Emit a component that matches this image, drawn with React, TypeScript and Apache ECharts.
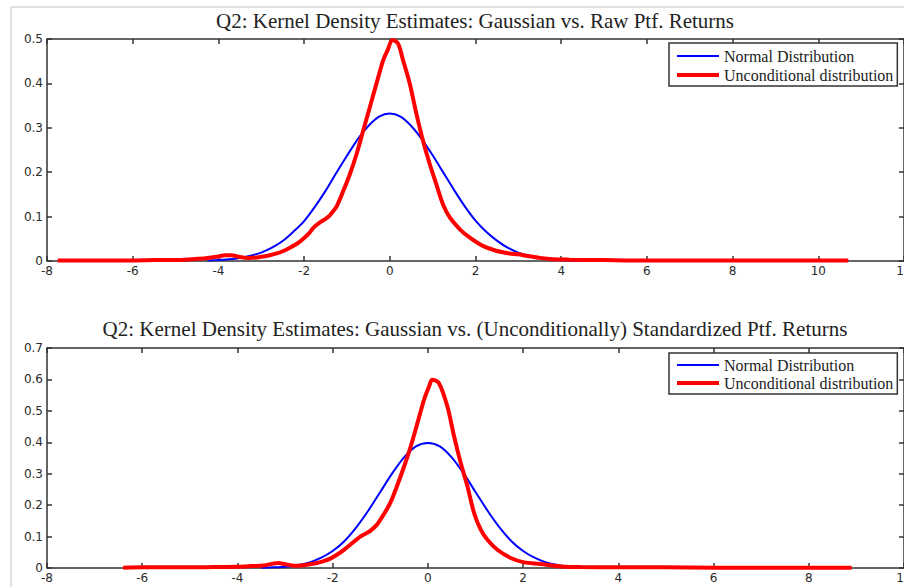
import React, { useEffect, useRef } from "react";
import * as echarts from "echarts";

// ---- Data ----
const titleTop = "Q2: Kernel Density Estimates: Gaussian vs. Raw Ptf. Returns";
const titleBottom =
  "Q2: Kernel Density Estimates: Gaussian vs. (Unconditionally) Standardized Ptf. Returns";
const legendNames = ["Normal Distribution", "Unconditional distribution"];

// Top panel: Normal distribution fit
const topNormalX = [
  -4.25, -4, -3.75, -3.5, -3.25, -3, -2.75, -2.5, -2.25, -2, -1.75, -1.5, -1.25, -1, -0.75, -0.5,
  -0.25, 0, 0.25, 0.5, 0.75, 1, 1.25, 1.5, 1.75, 2, 2.25, 2.5, 2.75, 3, 3.25, 3.5, 3.75, 4, 4.25,
  4.5,
];
const topNormalY = [
  0.001, 0.002, 0.004, 0.007, 0.012, 0.019, 0.03, 0.045, 0.066, 0.09, 0.122, 0.158, 0.198, 0.237,
  0.274, 0.304, 0.325, 0.332, 0.325, 0.304, 0.274, 0.238, 0.199, 0.16, 0.123, 0.091, 0.066, 0.046,
  0.03, 0.019, 0.012, 0.007, 0.004, 0.002, 0.001, 0.0005,
];

// Top panel: kernel density of raw returns
const topKdeX = [
  -7.75, -7, -6.5, -6, -5.5, -5, -4.6, -4.3, -4.0, -3.85, -3.7, -3.5, -3.3, -3.1, -2.95, -2.8,
  -2.64, -2.5, -2.33, -2.15, -2.0, -1.88, -1.78, -1.63, -1.5, -1.4, -1.3, -1.24, -1.085, -0.93,
  -0.775, -0.62, -0.465, -0.31, -0.155, -0.05, 0.06, 0.19, 0.31, 0.465, 0.62, 0.775, 0.93, 1.085,
  1.24, 1.4, 1.63, 1.86, 2.17, 2.48, 2.79, 3.0, 3.18, 3.5, 3.8, 4.2, 5, 6, 7, 8, 9, 10, 10.7,
];
const topKdeY = [
  0.001, 0.001, 0.001, 0.001, 0.002, 0.002, 0.004, 0.006, 0.01, 0.013, 0.013, 0.009, 0.007, 0.008,
  0.01, 0.013, 0.017, 0.022, 0.03, 0.04, 0.052, 0.063, 0.075, 0.087, 0.095, 0.103, 0.115, 0.123,
  0.158, 0.196, 0.241, 0.294, 0.347, 0.4, 0.452, 0.475, 0.498, 0.49, 0.452, 0.4, 0.332, 0.271,
  0.219, 0.173, 0.128, 0.098, 0.072, 0.053, 0.034, 0.023, 0.017, 0.015, 0.012, 0.007, 0.004, 0.003,
  0.002, 0.001, 0.001, 0.001, 0.001, 0.001, 0.001,
];

// Bottom panel: standard normal
const botNormalX = [
  -3.5, -3.25, -3, -2.75, -2.5, -2.25, -2, -1.75, -1.5, -1.25, -1, -0.75, -0.5, -0.25, 0, 0.25, 0.5,
  0.75, 1, 1.25, 1.5, 1.75, 2, 2.25, 2.5, 2.75, 3, 3.25, 3.5,
];
const botNormalY = [
  0.001, 0.002, 0.004, 0.009, 0.017, 0.032, 0.054, 0.086, 0.13, 0.183, 0.242, 0.301, 0.352, 0.387,
  0.398, 0.387, 0.352, 0.301, 0.242, 0.183, 0.13, 0.086, 0.054, 0.032, 0.017, 0.009, 0.004, 0.002,
  0.001,
];

// Bottom panel: kernel density of standardized returns
const botKdeX = [
  -6.4, -6, -5.5, -5, -4.5, -4, -3.7, -3.45, -3.25, -3.15, -3.0, -2.85, -2.75, -2.6, -2.47, -2.33,
  -2.19, -2.05, -1.91, -1.77, -1.63, -1.52, -1.42, -1.3, -1.21, -1.07, -0.93, -0.79, -0.65, -0.5,
  -0.36, -0.22, -0.08, 0.03, 0.09, 0.23, 0.41, 0.55, 0.69, 0.83, 0.97, 1.11, 1.25, 1.46, 1.74, 2.02,
  2.37, 2.6, 2.79, 3.2, 4, 5, 6, 7, 8, 8.9,
];
const botKdeY = [
  0.001, 0.002, 0.002, 0.002, 0.003, 0.004, 0.006, 0.008, 0.014, 0.016, 0.012, 0.008, 0.007, 0.009,
  0.012, 0.016, 0.022, 0.03, 0.042, 0.057, 0.074, 0.088, 0.1, 0.11, 0.118, 0.138, 0.17, 0.207, 0.26,
  0.323, 0.387, 0.461, 0.536, 0.58, 0.599, 0.589, 0.514, 0.419, 0.334, 0.26, 0.175, 0.122, 0.09,
  0.058, 0.032, 0.018, 0.013, 0.008, 0.005, 0.003, 0.002, 0.002, 0.001, 0.001, 0.001, 0.001,
];

const topXRange = [-8, 12];
const topYRange = [0, 0.5];
const botXRange = [-8, 10];
const botYRange = [0, 0.7];

const zip = (xs: number[], ys: number[]) => xs.map((x, i) => [x, ys[i]]);

const BLUE = "#0000ff";
const RED = "#ff0000";
const AXIS = "#333333";
const SERIF = "'Liberation Serif', 'Times New Roman', serif";
const SANS = "'DejaVu Sans', Verdana, sans-serif";

function makeAxes(gridIndex: number, xr: number[], yr: number[]) {
  const tick = { show: true, inside: true, length: 5, lineStyle: { color: AXIS, width: 1.5 } };
  const label = { fontFamily: SANS, fontSize: 12, color: "#2a2a2a" };
  const noLine = { show: false, onZero: false };
  const x = [
    {
      type: "value",
      gridIndex,
      position: "bottom",
      min: xr[0],
      max: xr[1],
      interval: 2,
      axisLine: noLine,
      axisTick: tick,
      splitLine: { show: false },
      axisLabel: { ...label, margin: 4, hideOverlap: false },
    },
    {
      type: "value",
      gridIndex,
      position: "top",
      min: xr[0],
      max: xr[1],
      interval: 2,
      axisLine: noLine,
      axisTick: tick,
      splitLine: { show: false },
      axisLabel: { show: false },
    },
  ];
  const y = [
    {
      type: "value",
      gridIndex,
      position: "left",
      min: yr[0],
      max: yr[1],
      interval: 0.1,
      axisLine: noLine,
      axisTick: tick,
      splitLine: { show: false },
      axisLabel: { ...label, margin: 4 },
    },
    {
      type: "value",
      gridIndex,
      position: "right",
      min: yr[0],
      max: yr[1],
      interval: 0.1,
      axisLine: noLine,
      axisTick: tick,
      splitLine: { show: false },
      axisLabel: { show: false },
    },
  ];
  return { x, y };
}

const ICON_THIN = "path://M0,0L42,0L42,2L0,2Z";
const ICON_THICK = "path://M0,0L42,0L42,4L0,4Z";

function makeLegend(top: number, padding: number[], itemGap: number) {
  return {
    data: [
      { name: legendNames[0], icon: ICON_THIN },
      { name: legendNames[1], icon: ICON_THICK },
    ],
    orient: "vertical",
    left: 669,
    top,
    itemWidth: 42,
    itemHeight: 12,
    itemGap,
    padding,
    symbolKeepAspect: true,
    borderColor: AXIS,
    borderWidth: 1.5,
    borderRadius: 0,
    backgroundColor: "#ffffff",
    selectedMode: false,
    textStyle: { fontFamily: SERIF, fontSize: 16, lineHeight: 14, color: "#222" },
  };
}

export default function App() {
  const ref = useRef<HTMLDivElement>(null);

  useEffect(() => {
    if (!ref.current) return;
    const chart = echarts.init(ref.current, undefined, { renderer: "svg" });
    const a0 = makeAxes(0, topXRange, topYRange);
    const a1 = makeAxes(1, botXRange, botYRange);

    const gridBase = {
      show: true,
      borderColor: AXIS,
      borderWidth: 1.5,
      backgroundColor: "transparent",
      containLabel: false,
      outerBoundsMode: "none",
    };

    const option = {
      animation: false,
      backgroundColor: "#ffffff",
      grid: [
        { ...gridBase, left: 47, top: 39, width: 857, height: 222 },
        { ...gridBase, left: 47, top: 348, width: 857, height: 220 },
      ],
      xAxis: [...a0.x, ...a1.x],
      yAxis: [...a0.y, ...a1.y],
      legend: [makeLegend(43, [5, 4, 3, 8], 3), makeLegend(353, [4, 4, 3, 8], 2)],
      graphic: [
        {
          type: "line",
          shape: { x1: 11, y1: 7, x2: 904, y2: 7 },
          style: { stroke: "#d6d6d6", lineWidth: 1.5 },
          silent: true,
        },
        {
          type: "line",
          shape: { x1: 11, y1: 7, x2: 11, y2: 587 },
          style: { stroke: "#d6d6d6", lineWidth: 1.5 },
          silent: true,
        },
        {
          type: "text",
          x: 475,
          y: 21,
          style: {
            text: titleTop,
            textAlign: "center",
            textVerticalAlign: "middle",
            fontFamily: SERIF,
            fontSize: 21,
            fill: "#222",
          },
        },
        {
          type: "text",
          x: 475,
          y: 329,
          style: {
            text: titleBottom,
            textAlign: "center",
            textVerticalAlign: "middle",
            fontFamily: SERIF,
            fontSize: 21,
            fill: "#222",
          },
        },
      ],
      series: [
        {
          name: legendNames[0],
          type: "line",
          xAxisIndex: 0,
          yAxisIndex: 0,
          data: zip(topNormalX, topNormalY),
          symbol: "none",
          smooth: 0.3,
          lineStyle: { color: BLUE, width: 2 },
          itemStyle: { color: BLUE },
        },
        {
          name: legendNames[1],
          type: "line",
          xAxisIndex: 0,
          yAxisIndex: 0,
          data: zip(topKdeX, topKdeY),
          symbol: "none",
          smooth: 0.3,
          lineStyle: { color: RED, width: 4 },
          itemStyle: { color: RED },
        },
        {
          name: legendNames[0],
          type: "line",
          xAxisIndex: 2,
          yAxisIndex: 2,
          data: zip(botNormalX, botNormalY),
          symbol: "none",
          smooth: 0.3,
          lineStyle: { color: BLUE, width: 2 },
          itemStyle: { color: BLUE },
        },
        {
          name: legendNames[1],
          type: "line",
          xAxisIndex: 2,
          yAxisIndex: 2,
          data: zip(botKdeX, botKdeY),
          symbol: "none",
          smooth: 0.3,
          lineStyle: { color: RED, width: 4 },
          itemStyle: { color: RED },
        },
      ],
    };
    chart.setOption(option as any);
    return () => chart.dispose();
  }, []);

  return (
    <div
      ref={ref}
      style={{ position: "absolute", left: 0, top: 0, width: 904, height: 587, background: "#fff" }}
    />
  );
}
